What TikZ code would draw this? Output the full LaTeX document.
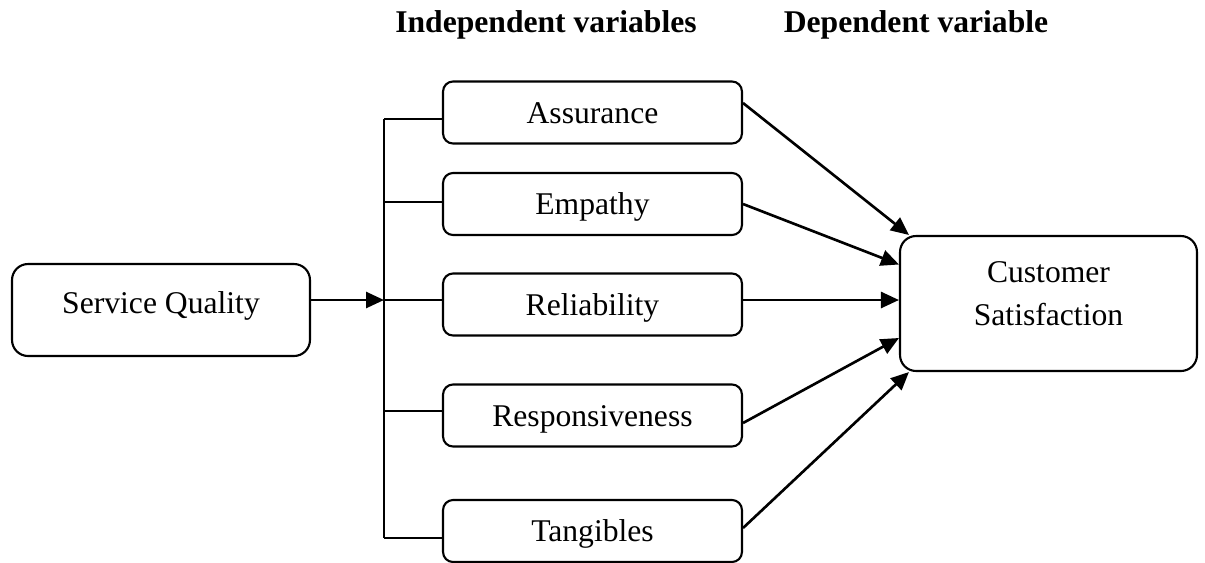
\documentclass[tikz,border=0pt]{standalone}
\usepackage{fontspec}
\setmainfont{Liberation Serif}
\usetikzlibrary{arrows.meta}
\tikzset{
box/.style={
  draw, line width=1.2pt,
  rounded corners=0.2cm,
  minimum width=5.98cm,
  minimum height=1.24cm,
  inner sep=0pt,
  text height=12pt, text depth=0pt,
  font=\fontsize{18}{24.5}\selectfont
},
bigbox/.style={box, rounded corners=0.32cm, minimum width=5.96cm},
head/.style={anchor=base, font=\fontsize{18}{21}\selectfont\bfseries},
bus/.style={line width=0.9pt},
link/.style={line width=1.5pt, -{Triangle[length=0.36cm,width=0.32cm]}},
}

\begin{document}
\begin{tikzpicture}[x=0.02cm, y=-0.02cm]
\useasboundingbox (0,0) rectangle (1205,562);
% the headings
\node[head] (indep) at (546,32) {Independent variables};
\node[head] (dep) at (916,32) {Dependent variable};
% the boxes
\node[bigbox, minimum height=1.84cm, text depth=8pt] (sq) at (161,310) {Service Quality};
\foreach \n/\y/\t in {ass/112.5/Assurance, emp/204/Empathy, rel/304.5/Reliability,
                      resp/415.5/Responsiveness, tang/531/Tangibles}
{
  \node[box] (\n) at (592.5,\y) {\t};
}
\node[bigbox, minimum width=5.94cm, minimum height=2.7cm] (cs) at (1048.5,303.5) {};
\node[font=\fontsize{18}{24.5}\selectfont, align=center] (cstext)
  at ([yshift=0.2cm]cs.center) {Customer\\Satisfaction};
% the bus
\coordinate (bus) at (384,300);
\coordinate (bustop) at (384,119);
\coordinate (busbot) at (384,538);
\draw[bus] (bustop) -- (busbot);
\draw[link] (sq.east |- bus) -- (bus);
\foreach \n/\s in {ass/-0.13cm, emp/0.04cm, resp/0.09cm, tang/-0.14cm}
{
  \path ([yshift=\s]\n.west) coordinate (tap);
  \draw[bus] (tap) -- (tap -| bus);
}
\draw[bus] (bus) -- (bus -| rel.west);
% the arrows
\draw[link] ([yshift=0.19cm]ass.east) -- ([xshift=0.2cm]cs.north west);
\draw[link] (emp.east) -- ([yshift=0.78cm]cs.west);
\draw[link] (bus -| rel.east) -- (bus -| cs.west);
\draw[link] ([yshift=-0.15cm]resp.east) -- ([yshift=-0.69cm]cs.west);
\draw[link] ([yshift=0.06cm]tang.east) -- ([xshift=0.2cm]cs.south west);
\end{tikzpicture}
\end{document}
